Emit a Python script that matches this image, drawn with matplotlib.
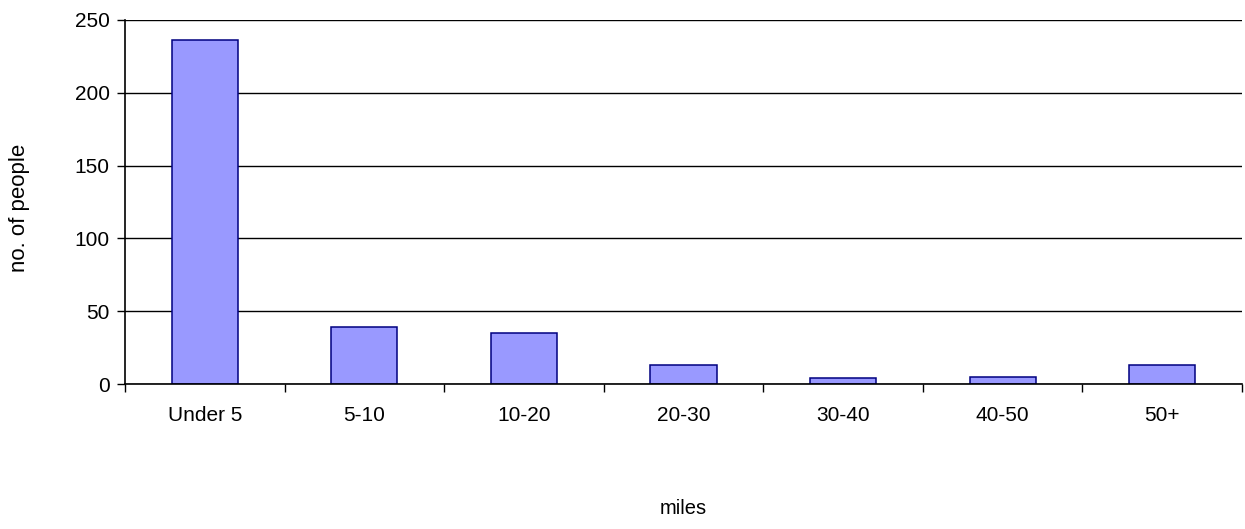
import matplotlib
matplotlib.use("Agg")
import matplotlib.pyplot as plt

# distance travelled (miles) vs number of people
categories = ['Under 5', '5-10', '10-20', '20-30', '30-40', '40-50', '50+']
people = [236, 39, 35, 13, 4, 5, 13]
y_ticks = [0, 50, 100, 150, 200, 250]

plt.rcParams['font.family'] = ['Liberation Sans', 'DejaVu Sans']

fig = plt.figure(figsize=(12.45, 5.29), dpi=100)
ax = fig.add_axes([125 / 1245, 145 / 529, 1117 / 1245, 364 / 529])

x = range(len(categories))
ax.bar(x, people, width=0.415, color='#9999FF', edgecolor='#000080',
       linewidth=1.1, zorder=3)

ax.set_xlim(-0.5, len(categories) - 0.5)
ax.set_ylim(0, 250)
ax.set_yticks(y_ticks)
ax.yaxis.grid(True, color='black', linewidth=1.0, zorder=0)

# category ticks sit between the bars, labels centred under them
ax.set_xticks([i - 0.5 for i in range(len(categories) + 1)])
ax.set_xticklabels([])
ax.set_xticks(list(x), minor=True)
ax.set_xticklabels(categories, minor=True)
ax.tick_params(axis='x', which='major', length=6, width=1, color='black')
ax.tick_params(axis='x', which='minor', length=0, pad=16, labelsize=15)
ax.tick_params(axis='y', length=6, width=1, labelsize=15, pad=5)

for side in ['top', 'right']:
    ax.spines[side].set_visible(False)
for side in ['left', 'bottom']:
    ax.spines[side].set_linewidth(1.2)
    ax.spines[side].set_zorder(4)

ax.set_xlabel('miles', fontsize=14.5)
ax.set_ylabel('no. of people', fontsize=16)
ax.xaxis.set_label_coords(0.5, -0.315)
ax.yaxis.set_label_coords(-0.085, 0.485)

fig.savefig('out.png', dpi=100)
